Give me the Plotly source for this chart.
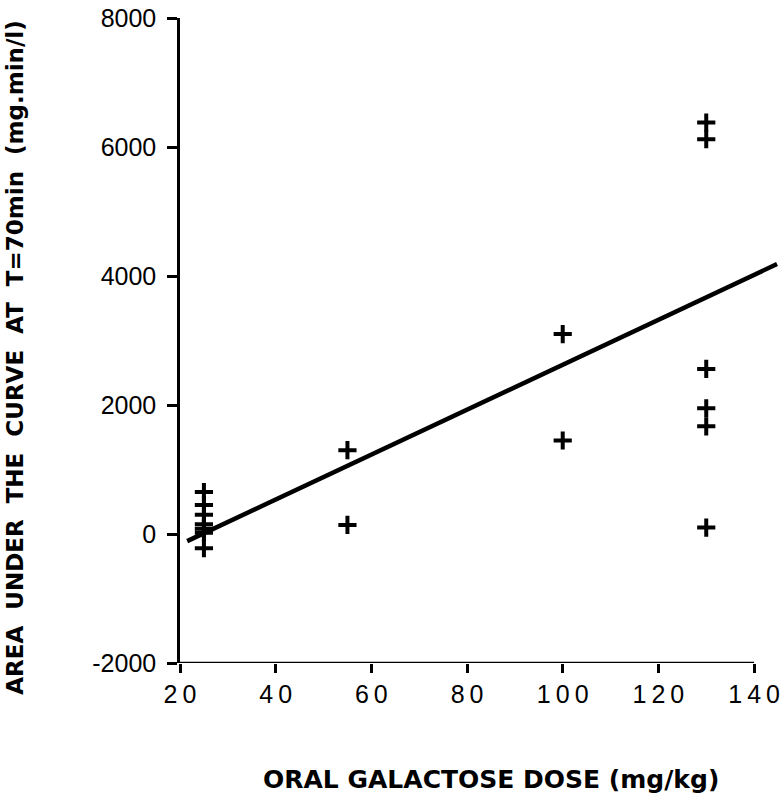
import plotly.graph_objects as go

# Data
dose_25 = [25, 25, 25, 25, 25, 25, 25]
auc_25 = [650, 450, 300, 150, 80, 20, -220]
dose_55 = [55, 55]
auc_55 = [1300, 140]
dose_100 = [100, 100]
auc_100 = [3100, 1450]
dose_130 = [130, 130, 130, 130, 130, 130]
auc_130 = [6380, 6120, 2560, 1950, 1670, 100]

line_x = [21.5, 144.8]
line_y = [-110, 4185]

x_ticks = [20, 40, 60, 80, 100, 120, 140]
y_ticks = [-2000, 0, 2000, 4000, 6000, 8000]
y_ticktext = ["-2000", "0", "2000", "4000", "6000", "8000"]

x_title = "ORAL GALACTOSE DOSE (mg/kg)"
y_title = "AREA\u00a0\u00a0UNDER\u00a0\u00a0THE\u00a0\u00a0CURVE\u00a0\u00a0AT\u00a0\u00a0T=70min\u00a0\u00a0(mg.min/l)"

xs = dose_25 + dose_55 + dose_100 + dose_130
ys = auc_25 + auc_55 + auc_100 + auc_130

fig = go.Figure()
fig.add_trace(go.Scatter(
    x=line_x, y=line_y, mode="lines",
    line=dict(color="black", width=4.5),
    showlegend=False, hoverinfo="skip"))
fig.add_trace(go.Scatter(
    x=xs, y=ys, mode="markers",
    marker=dict(symbol="cross-thin", size=13, color="black",
                line=dict(color="black", width=4)),
    showlegend=False, cliponaxis=False))

tick_font = dict(family="Liberation Sans", size=25, color="black")

fig.update_layout(
    width=784, height=800,
    margin=dict(l=180, r=4, t=18, b=137),
    paper_bgcolor="white", plot_bgcolor="white",
    xaxis=dict(range=[20, 145], tickvals=x_ticks,
               ticktext=["\u2009".join(str(v)) for v in x_ticks],
               ticks="outside", ticklen=9, tickwidth=2.5, tickcolor="black",
               showline=False, showgrid=False, zeroline=False,
               tickfont=tick_font),
    yaxis=dict(range=[-2000, 8000], tickvals=y_ticks, ticktext=y_ticktext,
               ticks="outside", ticklen=10, tickwidth=2.5, tickcolor="black",
               showline=True, linewidth=2.5, linecolor="black",
               showgrid=False, zeroline=False, tickfont=tick_font,
               ticklabelstandoff=6),
)

# x-axis baseline only from 20 to 140
fig.add_shape(type="line", xref="x", yref="y", x0=20, x1=140, y0=-2000, y1=-2000,
              line=dict(color="black", width=2.5))

fig.add_annotation(text=x_title, xref="paper", yref="paper",
                   x=0.52, y=-0.181, xanchor="center", yanchor="middle",
                   showarrow=False,
                   font=dict(family="DejaVu Sans", size=25, color="black", weight="bold"))
fig.add_annotation(text=y_title, xref="paper", yref="paper",
                   x=-0.275, y=0.474, xanchor="center", yanchor="middle",
                   textangle=-90, showarrow=False,
                   font=dict(family="DejaVu Sans", size=23, color="black", weight="bold"))

fig.write_html("out.html")
